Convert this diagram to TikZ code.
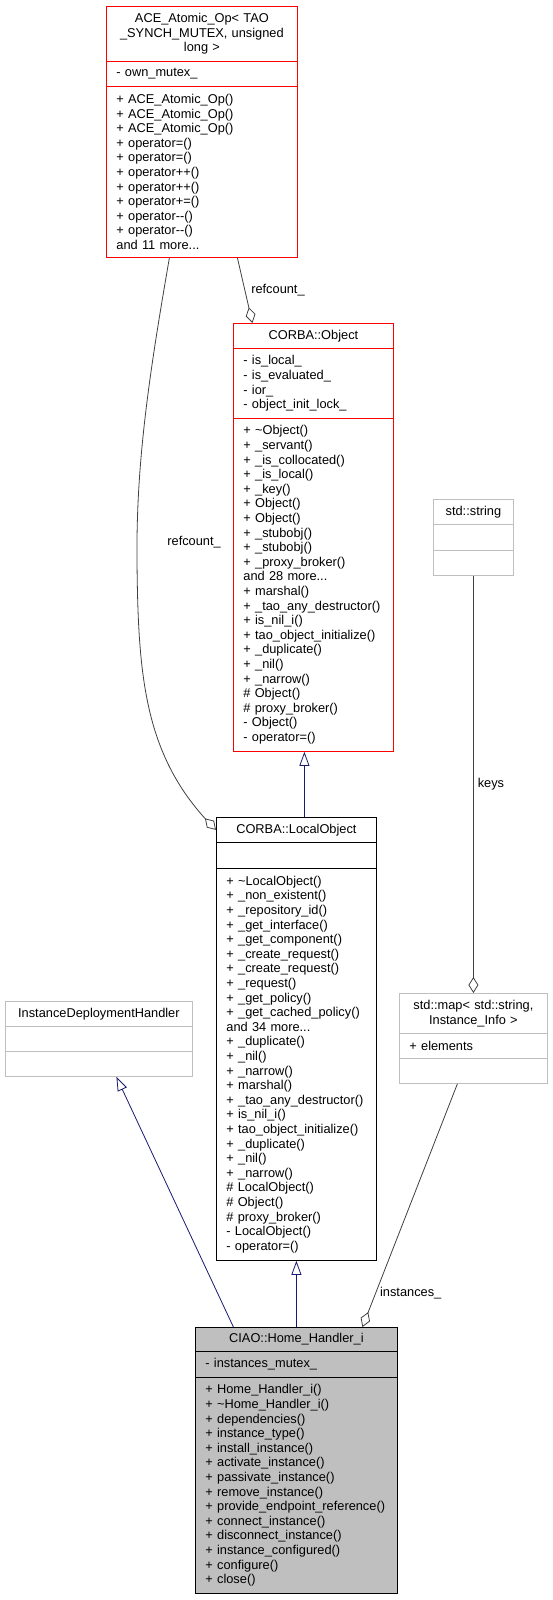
\documentclass[tikz,border=0pt]{standalone}
\usepackage{fontspec}
\setmainfont{Liberation Sans}
\usepackage{xcolor}
\usetikzlibrary{arrows.meta, bending}
\definecolor{redc}{HTML}{FF0000}
\definecolor{grayc}{HTML}{BFBFBF}
\definecolor{navyc}{HTML}{191970}
\definecolor{edgec}{HTML}{404040}
\newcommand{\classfont}{\fontsize{12.8}{14.6}\selectfont}

\begin{document}
\begin{tikzpicture}[x=1pt, y=-1pt,
    box/.style={draw, line width=0.8pt, anchor=north west, inner xsep=10pt, inner ysep=0pt, font=\classfont, align=left},
    hdr/.style={box, align=center},
    inh/.style={draw=navyc, line width=0.8pt, {Triangle[open, length=14pt, width=10pt]}-},
    agg/.style={draw=edgec, line width=0.8pt, {Diamond[open, length=16pt, width=10pt]}-},
    lbl/.style={font=\classfont, anchor=west, inner sep=0pt}]
        \useasboundingbox (0,0) rectangle (552,1600);

        % ACE_Atomic_Op
        \node[hdr, draw=redc, text width=171pt, minimum height=55pt] (acetitle) at (106,6) {ACE\_Atomic\_Op< TAO\\ \_SYNCH\_MUTEX, unsigned\\ long >};
        \node[box, draw=redc, text width=171pt, minimum height=25pt] (aceattr) at (106,61) {- own\_mutex\_};
        \node[box, draw=redc, text width=171pt, minimum height=171pt] (acemeth) at (106,86) {+ ACE\_Atomic\_Op()\\ + ACE\_Atomic\_Op()\\ + ACE\_Atomic\_Op()\\ + operator=()\\ + operator=()\\ + operator++()\\ + operator++()\\ + operator+=()\\ + operator-{}-()\\ + operator-{}-()\\ and 11 more...};

        % CORBA::Object
        \node[hdr, draw=redc, text width=140pt, minimum height=25pt] (objtitle) at (233,323) {CORBA::Object};
        \node[box, draw=redc, text width=140pt, minimum height=70pt] (objattr) at (233,348) {- is\_local\_\\ - is\_evaluated\_\\ - ior\_\\ - object\_init\_lock\_};
        \node[box, draw=redc, text width=140pt, minimum height=333pt] (objmeth) at (233,418) {+ \textasciitilde Object()\\ + \_servant()\\ + \_is\_collocated()\\ + \_is\_local()\\ + \_key()\\ + Object()\\ + Object()\\ + \_stubobj()\\ + \_stubobj()\\ + \_proxy\_broker()\\ and 28 more...\\ + marshal()\\ + \_tao\_any\_destructor()\\ + is\_nil\_i()\\ + tao\_object\_initialize()\\ + \_duplicate()\\ + \_nil()\\ + \_narrow()\\ \# Object()\\ \# proxy\_broker()\\ - Object()\\ - operator=()};

        % std::string
        \node[hdr, draw=grayc, text width=60pt, minimum height=25pt] (strtitle) at (433,499) {std::string};
        \node[box, draw=grayc, text width=60pt, minimum height=26pt] (strattr) at (433,524) {};
        \node[box, draw=grayc, text width=60pt, minimum height=25pt] (strmeth) at (433,550) {};

        % CORBA::LocalObject
        \node[hdr, text width=140pt, minimum height=25pt] (lotitle) at (216,817) {CORBA::LocalObject};
        \node[box, text width=140pt, minimum height=26pt] (loattr) at (216,842) {};
        \node[box, text width=140pt, minimum height=392pt] (lometh) at (216,868) {+ \textasciitilde LocalObject()\\ + \_non\_existent()\\ + \_repository\_id()\\ + \_get\_interface()\\ + \_get\_component()\\ + \_create\_request()\\ + \_create\_request()\\ + \_request()\\ + \_get\_policy()\\ + \_get\_cached\_policy()\\ and 34 more...\\ + \_duplicate()\\ + \_nil()\\ + \_narrow()\\ + marshal()\\ + \_tao\_any\_destructor()\\ + is\_nil\_i()\\ + tao\_object\_initialize()\\ + \_duplicate()\\ + \_nil()\\ + \_narrow()\\ \# LocalObject()\\ \# Object()\\ \# proxy\_broker()\\ - LocalObject()\\ - operator=()};

        % InstanceDeploymentHandler
        \node[hdr, draw=grayc, text width=167pt, minimum height=25pt] (idhtitle) at (5,1001) {InstanceDeploymentHandler};
        \node[box, draw=grayc, text width=167pt, minimum height=25pt] (idhattr) at (5,1026) {};
        \node[box, draw=grayc, text width=167pt, minimum height=25pt] (idhmeth) at (5,1051) {};

        % std::map
        \node[hdr, draw=grayc, text width=128pt, minimum height=40pt] (maptitle) at (399,993) {std::map< std::string,\\ Instance\_Info >};
        \node[box, draw=grayc, text width=128pt, minimum height=25pt] (mapattr) at (399,1033) {+ elements};
        \node[box, draw=grayc, text width=128pt, minimum height=25pt] (mapmeth) at (399,1058) {};

        % CIAO::Home_Handler_i
        \node[hdr, fill=grayc, text width=182pt, minimum height=24pt] (ciaotitle) at (195,1327) {CIAO::Home\_Handler\_i};
        \node[box, fill=grayc, text width=182pt, minimum height=26pt] (ciaoattr) at (195,1351) {- instances\_mutex\_};
        \node[box, fill=grayc, text width=182pt, minimum height=216pt] (ciaometh) at (195,1377) {+ Home\_Handler\_i()\\ + \textasciitilde Home\_Handler\_i()\\ + dependencies()\\ + instance\_type()\\ + install\_instance()\\ + activate\_instance()\\ + passivate\_instance()\\ + remove\_instance()\\ + provide\_endpoint\_reference()\\ + connect\_instance()\\ + disconnect\_instance()\\ + instance\_configured()\\ + configure()\\ + close()};

        % Herencia
        \draw[inh] ([xshift=-9pt]objmeth.south) -- ([xshift=8pt]lotitle.north);
        \draw[inh] ([xshift=17.5pt]idhmeth.south) -- ([xshift=-63pt]ciaotitle.north);
        \draw[inh] (lometh.south) -- (ciaotitle.north);

        % Agregacion
        \draw[agg] ([xshift=-61pt]objtitle.north) -- node[lbl, pos=0.5, xshift=6pt] {refcount\_} ([xshift=35.5pt]acemeth.south);
        \draw[agg] (lotitle.west) .. controls (145,760) and (138,680) .. (137,560)
            .. controls (136,460) and (150,370) .. ([xshift=-32.5pt]acemeth.south) node[lbl, pos=0.06, xshift=30pt] {refcount\_};
        \draw[agg] (maptitle.north) -- node[lbl, pos=0.5, xshift=4pt] {keys} (strmeth.south);
        \draw[agg] ([xshift=66pt]ciaotitle.north) -- node[lbl, pos=0.14, xshift=4pt] {instances\_} ([xshift=-16pt]mapmeth.south);
    \end{tikzpicture}
\end{document}
